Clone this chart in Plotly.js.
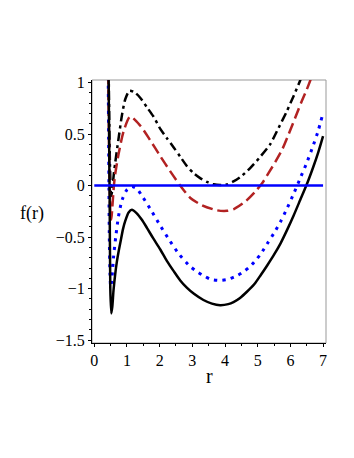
<!DOCTYPE html>
<html>
<head>
<meta charset="utf-8">
<script src="https://cdn.plot.ly/plotly-3.0.1.min.js"></script>
<style>
  html, body { margin: 0; padding: 0; background: #fff; }
  #plot { width: 354px; height: 458px; }
</style>
</head>
<body>
<div id="plot"></div>
<script>
// values
var rSolid = [0.42, 0.44, 0.46, 0.47, 0.49, 0.52, 0.55, 0.59, 0.64, 0.69, 0.75, 0.80, 0.88, 0.95, 1.05, 1.15, 1.3, 1.45, 1.61, 1.8, 2.02, 2.22, 2.43, 2.63, 2.83, 3.05, 3.34, 3.6, 3.85, 4.1, 4.26, 4.46, 4.67, 4.9, 5.1, 5.3, 5.5, 5.7, 5.9, 6.1, 6.3, 6.5, 6.7, 6.85, 7.0];
var fSolid = [1.4, 1.0, 0.2, -0.1, -1.0, -1.24, -1.18, -1.01, -0.86, -0.74, -0.63, -0.55, -0.42, -0.34, -0.26, -0.235, -0.27, -0.33, -0.41, -0.51, -0.62, -0.73, -0.83, -0.92, -0.99, -1.05, -1.11, -1.145, -1.16, -1.15, -1.13, -1.09, -1.03, -0.955, -0.865, -0.77, -0.67, -0.56, -0.43, -0.29, -0.14, 0.01, 0.18, 0.32, 0.48];

var rDot = [0.42, 0.43, 0.44, 0.45, 0.46, 0.48, 0.50, 0.53, 0.56, 0.59, 0.66, 0.74, 0.85, 1.0, 1.15, 1.3, 1.48, 1.74, 2.02, 2.28, 2.58, 2.92, 3.12, 3.32, 3.57, 3.82, 4.08, 4.33, 4.55, 4.75, 4.9, 5.1, 5.3, 5.5, 5.7, 5.9, 6.1, 6.3, 6.5, 6.7, 6.85, 6.97];
var fDot = [1.3, 0.9, 0.4, -0.1, -0.5, -0.85, -0.98, -0.93, -0.82, -0.69, -0.49, -0.30, -0.14, -0.04, -0.01, -0.03, -0.11, -0.24, -0.39, -0.52, -0.66, -0.78, -0.83, -0.87, -0.91, -0.92, -0.91, -0.88, -0.84, -0.79, -0.74, -0.66, -0.56, -0.46, -0.35, -0.22, -0.08, 0.07, 0.22, 0.39, 0.53, 0.67];

var rDash = [0.42, 0.43, 0.44, 0.46, 0.48, 0.50, 0.52, 0.55, 0.60, 0.64, 0.74, 0.9, 1.1, 1.41, 1.71, 2.02, 2.32, 2.63, 2.94, 3.29, 3.75, 4.06, 4.26, 4.62, 4.92, 5.13, 5.33, 5.54, 5.75, 5.95, 6.15, 6.35, 6.5, 6.61, 6.7];
var fDash = [1.4, 1.0, 0.7, 0.2, -0.15, -0.3, -0.33, -0.22, 0.0, 0.11, 0.30, 0.53, 0.67, 0.58, 0.44, 0.285, 0.14, 0.0, -0.12, -0.19, -0.24, -0.245, -0.23, -0.155, -0.06, 0.02, 0.12, 0.23, 0.35, 0.50, 0.66, 0.82, 0.93, 1.02, 1.1];

var rDashDot = [0.42, 0.44, 0.46, 0.48, 0.50, 0.52, 0.55, 0.60, 0.64, 0.74, 0.85, 0.95, 1.08, 1.25, 1.41, 1.61, 1.81, 2.02, 2.22, 2.43, 2.63, 2.83, 3.04, 3.25, 3.45, 3.65, 3.85, 4.05, 4.26, 4.46, 4.77, 5.08, 5.38, 5.64, 5.89, 6.1, 6.3, 6.4];
var fDashDot = [1.5, 1.1, 0.6, 0.2, -0.02, -0.1, -0.04, 0.12, 0.22, 0.45, 0.69, 0.84, 0.92, 0.90, 0.85, 0.76, 0.67, 0.55, 0.46, 0.37, 0.28, 0.19, 0.12, 0.07, 0.035, 0.012, 0.005, 0.01, 0.04, 0.08, 0.17, 0.28, 0.40, 0.56, 0.72, 0.87, 1.02, 1.1];

var rZero = [0, 7];
var fZero = [0, 0];

var yTicks = [-1.5, -1, -0.5, 0, 0.5, 1];
var yTickText = ['\u22121.5', '\u22121', '\u22120.5', '0', '0.5', '1'];
var xTicks = [0, 1, 2, 3, 4, 5, 6, 7];

var serif = 'Liberation Serif, Times New Roman, serif';

var traces = [
  {x: rDashDot, y: fDashDot, mode: 'lines',
   line: {color: '#000000', width: 2.5, dash: '9px,4px,3px,4px', shape: 'spline', smoothing: 0.7}},
  {x: rDash, y: fDash, mode: 'lines',
   line: {color: '#B22222', width: 2.5, dash: '11px,5px', shape: 'spline', smoothing: 0.7}},
  {x: rDot, y: fDot, mode: 'lines',
   line: {color: '#0000FF', width: 3, dash: '3px,5.5px', shape: 'spline', smoothing: 0.7}},
  {x: rSolid, y: fSolid, mode: 'lines',
   line: {color: '#000000', width: 2.5, shape: 'spline', smoothing: 0.7}},
  {x: rZero, y: fZero, mode: 'lines',
   line: {color: '#0000FF', width: 2.5}}
];

var layout = {
  width: 354,
  height: 458,
  margin: {l: 92, r: 28, t: 80, b: 115},
  showlegend: false,
  paper_bgcolor: '#ffffff',
  plot_bgcolor: '#ffffff',
  font: {family: serif, size: 16, color: '#000'},
  xaxis: {
    range: [-0.07, 7.09],
    tickvals: xTicks,
    ticks: 'outside', ticklen: 3, tickcolor: '#000',
    minor: {dtick: 0.5, ticks: 'outside', ticklen: 2, tickcolor: '#000'},
    showgrid: false, zeroline: false,
    showline: true, linecolor: '#000', linewidth: 1,
    tickfont: {family: serif, size: 16}
  },
  yaxis: {
    range: [-1.527, 1.024],
    tickvals: yTicks, ticktext: yTickText,
    ticks: 'outside', ticklen: 3, tickcolor: '#000',
    minor: {dtick: 0.1, ticks: 'outside', ticklen: 2, tickcolor: '#000'},
    showgrid: false, zeroline: false,
    showline: true, linecolor: '#000', linewidth: 1,
    tickfont: {family: serif, size: 16}
  },
  shapes: [
    {type: 'rect', xref: 'paper', yref: 'paper', x0: 0, x1: 1, y0: 0, y1: 1,
     line: {color: '#999999', width: 1}, layer: 'below'}
  ],
  annotations: [
    {text: 'f(r)', xref: 'paper', yref: 'paper', x: -0.255, y: 0.494,
     xanchor: 'center', yanchor: 'middle', showarrow: false,
     font: {family: serif, size: 18}},
    {text: 'r', xref: 'paper', yref: 'paper', x: 0.5, y: -0.125,
     xanchor: 'center', yanchor: 'middle', showarrow: false,
     font: {family: serif, size: 20}}
  ]
};

Plotly.newPlot('plot', traces, layout, {staticPlot: true, displayModeBar: false});
</script>
</body>
</html>
